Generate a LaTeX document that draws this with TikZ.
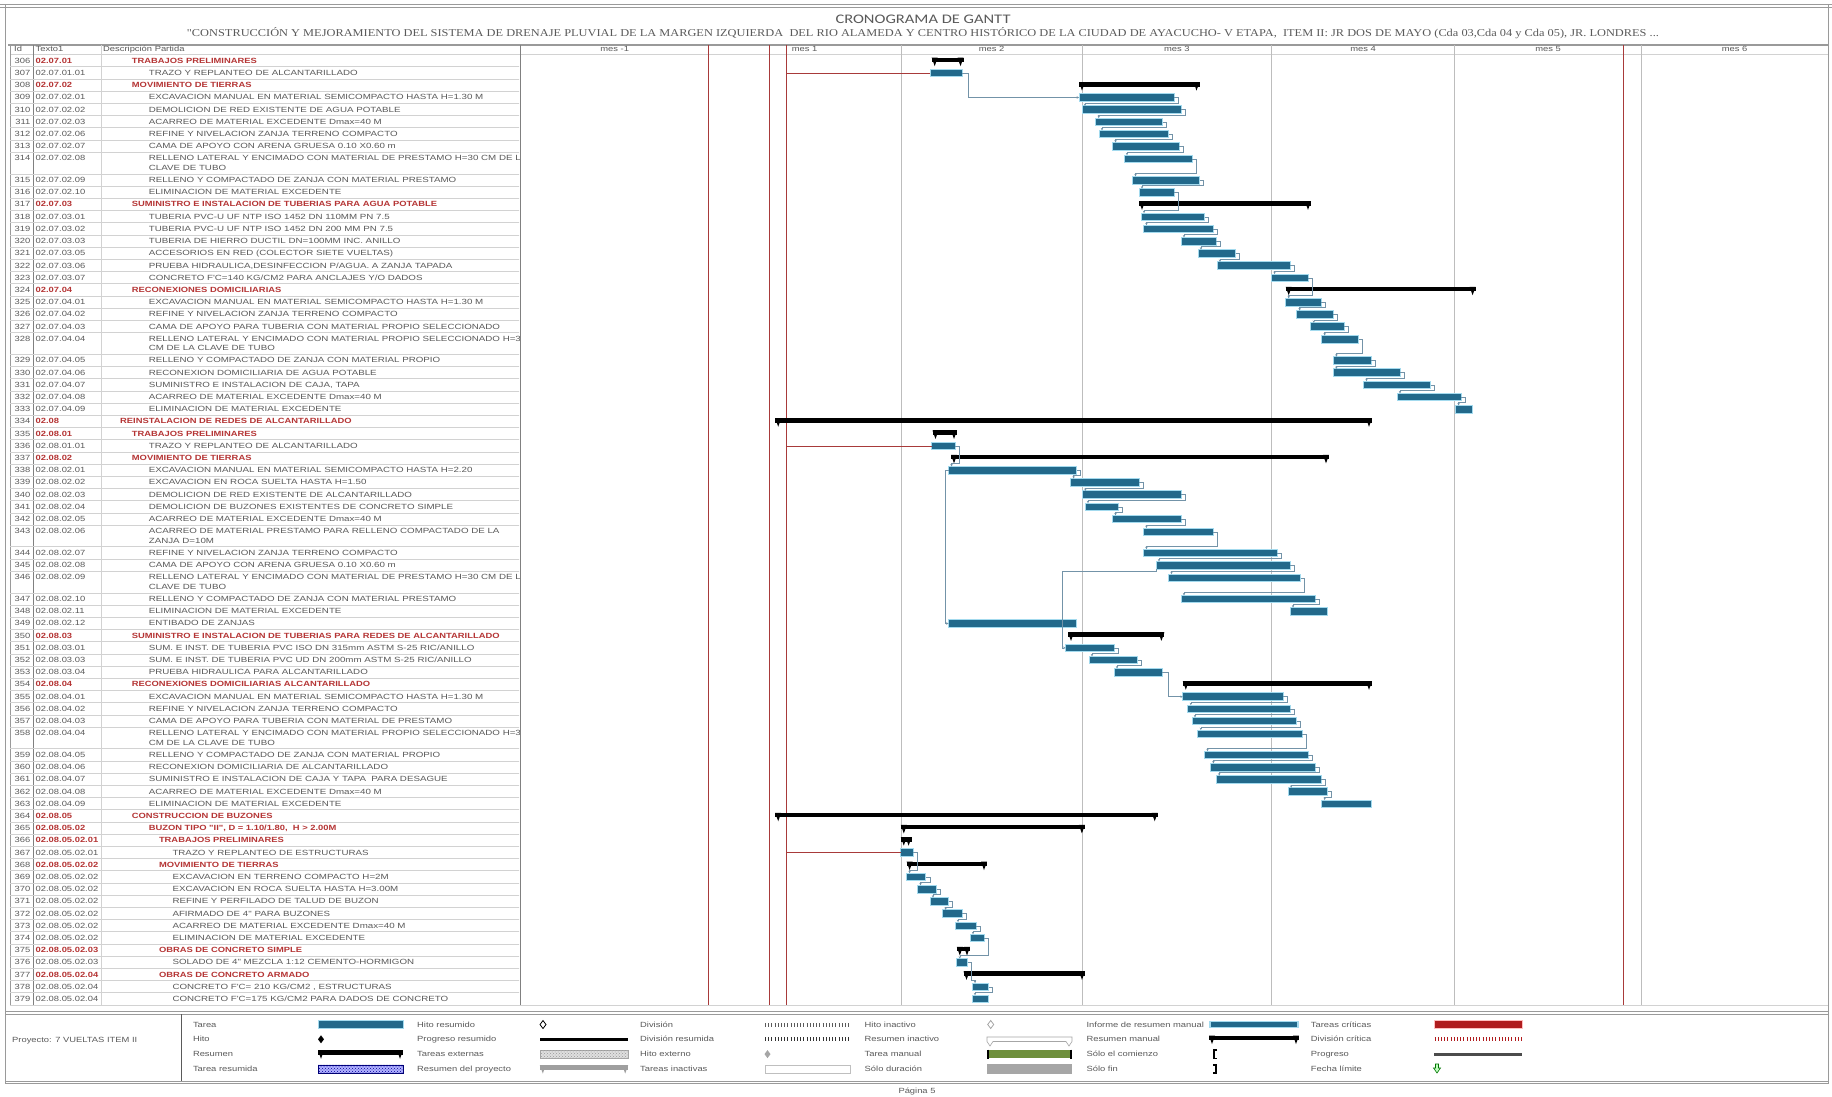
\documentclass[tikz,border=0pt]{standalone}
\usepackage{fontspec}
\usepackage{graphicx}
\setmainfont{Liberation Sans}
\newfontfamily\tabfont[FakeStretch=1.25]{Liberation Sans}
\newfontfamily\descfont[FakeStretch=1.3]{Liberation Sans}
\newfontfamily\ttlfont{Carlito}
\newfontfamily\subfont{Liberation Serif}
\usetikzlibrary{arrows.meta,patterns}

\definecolor{barFill}{HTML}{22698B}
\definecolor{barEdge}{HTML}{A3DAEE}
\definecolor{redln}{HTML}{A83A3A}
\definecolor{gridln}{HTML}{BDBDBD}
\definecolor{txtgray}{HTML}{5A5A5A}
\definecolor{txtred}{HTML}{B53535}
\definecolor{rowln}{HTML}{D2D2D2}
\definecolor{linkln}{HTML}{7393A8}
\definecolor{frameln}{HTML}{9A9A9A}
\definecolor{manGreen}{HTML}{6E8F3C}
\definecolor{critRed}{HTML}{B01C1E}

\newcommand\tabsz{\tabfont\fontsize{7.5}{8}\selectfont}
\newcommand\tabszb{\tabfont\bfseries\fontsize{7.5}{8}\selectfont}
\newcommand\descsz{\descfont\fontsize{7.5}{8}\selectfont}

% running top edge of the current table row
\newcount\rowno
\def\rtop{54.6}

% one-line row: id, code, kind (t|s), indent, text
\newcommand\RA[5]{%
  \global\advance\rowno by 1
  \edef\rn{\the\rowno}%
  \pgfmathsetmacro\ybase{\rtop+8.7}%
  \node[idtext] (id\rn) at (30.5,\ybase) {#1};
  \node[#3code] (cd\rn) at (35.5,\ybase) {#2};
  \node[#3desc] (ds\rn) at (#4,\ybase) {#5};
  \pgfmathsetmacro\yb{\rtop+6.3}%
  \expandafter\xdef\csname ry\rn\endcsname{\yb}%
  \pgfmathsetmacro\nt{\rtop+12.2}%
  \draw[rowrule] (10,\nt) -- (520,\nt);
  \xdef\rtop{\nt}%
}
% two-line row: id, code, kind, indent, first line, second line
\newcommand\RB[6]{%
  \global\advance\rowno by 1
  \edef\rn{\the\rowno}%
  \pgfmathsetmacro\ybase{\rtop+8.7}%
  \pgfmathsetmacro\ybaseb{\rtop+18.0}%
  \node[idtext] (id\rn) at (30.5,\ybase) {#1};
  \node[#3code] (cd\rn) at (35.5,\ybase) {#2};
  \node[#3desc] (ds\rn) at (#4,\ybase) {#5};
  \node[#3desc] (dt\rn) at (#4,\ybaseb) {#6};
  \pgfmathsetmacro\yb{\rtop+6.8}%
  \expandafter\xdef\csname ry\rn\endcsname{\yb}%
  \pgfmathsetmacro\nt{\rtop+21.7}%
  \draw[rowrule] (10,\nt) -- (520,\nt);
  \xdef\rtop{\nt}%
}
% task bar: row, start x, end x
\newcommand\TB[3]{%
  \pgfmathsetmacro\bw{#3-#2}\pgfmathsetmacro\bx{(#2+#3)/2}%
  \edef\yy{\csname ry#1\endcsname}%
  \node[taskbar, minimum width=\bw pt] (b#1) at (\bx,\yy) {};
}
% summary bar: row, start x, end x
\newcommand\SB[3]{%
  \pgfmathsetmacro\bw{#3-#2}\pgfmathsetmacro\bx{(#2+#3)/2}%
  \edef\yy{\csname ry#1\endcsname}%
  \node[sumbar, minimum width=\bw pt] (s#1) at (\bx,\yy-1) {};
  \fill[black] (s#1.north west) -- ++(6,0) -- ++(-3,8.5) -- cycle;
  \fill[black] (s#1.north east) -- ++(-6,0) -- ++(3,8.5) -- cycle;
}
% finish-to-start link between two task bars
\newcommand\LK[2]{%
  \draw[link] (b#1.east) -- ++(4,0) |- ([xshift=3pt,yshift=3pt]b#2.north west) -- ([xshift=3pt]b#2.north west);
}

\begin{document}
\begin{tikzpicture}[x=1pt,y=-1pt,
  idtext/.style={anchor=base east,inner sep=0,font=\tabsz,text=txtgray},
  tcode/.style={anchor=base west,inner sep=0,font=\tabsz,text=txtgray},
  scode/.style={anchor=base west,inner sep=0,font=\tabszb,text=txtred},
  tdesc/.style={anchor=base west,inner sep=0,font=\descsz,text=txtgray},
  sdesc/.style={anchor=base west,inner sep=0,font=\tabszb,text=txtred},
  lbl/.style={anchor=base west,inner sep=0,font=\tabsz,text=txtgray},
  rowrule/.style={rowln,line width=0.6pt},
  taskbar/.style={draw=barEdge,line width=0.9pt,fill=barFill,minimum height=7.6pt,inner sep=0,outer sep=0},
  sumbar/.style={fill=black,minimum height=4.5pt,inner sep=0,outer sep=0},
  link/.style={linkln,line width=0.5pt,-{Stealth[length=2.4pt,width=2.4pt]}},
  redlink/.style={redln,line width=0.6pt},
  grid/.style={gridln,line width=0.6pt},
  redgrid/.style={redln,line width=0.8pt},
]
\useasboundingbox (0,0) rectangle (1832,1097);
\fill[white] (0,0) rectangle (1832,1097);

% page frame
\draw[frameln,line width=1pt] (0,4.5) -- (1832,4.5);
\draw[frameln,line width=0.6pt] (0,7) -- (1832,7);
\draw[frameln,line width=0.8pt] (5,4.5) -- (5,1084);
\draw[frameln,line width=0.8pt] (1828,4.5) -- (1828,1084);

% titles
\node[text=txtgray] (ttl) at (923,19) {\resizebox{175pt}{8.5pt}{\ttlfont CRONOGRAMA DE GANTT}};
\node[text=txtgray] (sub) at (923,33) {\resizebox{1472pt}{9pt}{\subfont "CONSTRUCCIÓN Y MEJORAMIENTO DEL SISTEMA DE DRENAJE PLUVIAL DE LA MARGEN IZQUIERDA\ \ DEL RIO ALAMEDA Y CENTRO HISTÓRICO DE LA CIUDAD DE AYACUCHO- V ETAPA,\ \ ITEM II: JR DOS DE MAYO (Cda 03,Cda 04 y Cda 05), JR. LONDRES ...}};

% header band
\draw[frameln,line width=1.4pt] (8,45) -- (1828,45);
\draw[rowln,line width=0.8pt] (10,54.6) -- (1828,54.6);
\node[lbl] (hId) at (14,51.8) {Id};
\node[lbl] (hTx) at (35.5,51.8) {Texto1};
\node[lbl] (hDs) at (103,51.8) {Descripción Partida};
\foreach \mx/\ml [count=\i] in {614.7/mes -1,804.6/mes 1,991.6/mes 2,1176.9/mes 3,1363.1/mes 4,1548/mes 5,1734.5/mes 6}
  \node[anchor=base,inner sep=0,font=\tabsz,text=txtgray] (mes\i) at (\mx,51.8) {\ml};

% table columns
\draw[frameln,line width=0.8pt] (10,45) -- (10,1005);
\draw[gray,line width=1pt] (33.5,45) -- (33.5,1005);
\draw[rowln,line width=0.7pt] (101,45) -- (101,1005);

% timescale grid
\foreach \gx in {900.8,1082.3,1271.5,1454.7,1641.3}
  \draw[grid] (\gx,45) -- (\gx,1005);
\foreach \gx in {708.3,769.4,786.1,1623}
  \draw[redgrid] (\gx,45) -- (\gx,1005);

% table rows
\begin{scope}
\clip (10,54) rectangle (519,1006);
\RA{306}{02.07.01}{s}{131.7}{TRABAJOS PRELIMINARES}
\RA{307}{02.07.01.01}{t}{148.6}{TRAZO Y REPLANTEO DE ALCANTARILLADO}
\RA{308}{02.07.02}{s}{131.7}{MOVIMIENTO DE TIERRAS}
\RA{309}{02.07.02.01}{t}{148.6}{EXCAVACION MANUAL EN MATERIAL SEMICOMPACTO HASTA H=1.30 M}
\RA{310}{02.07.02.02}{t}{148.6}{DEMOLICION DE RED EXISTENTE DE AGUA POTABLE}
\RA{311}{02.07.02.03}{t}{148.6}{ACARREO DE MATERIAL EXCEDENTE Dmax=40 M}
\RA{312}{02.07.02.06}{t}{148.6}{REFINE Y NIVELACION ZANJA TERRENO COMPACTO}
\RA{313}{02.07.02.07}{t}{148.6}{CAMA DE APOYO CON ARENA GRUESA 0.10 X0.60 m}
\RB{314}{02.07.02.08}{t}{148.6}{RELLENO LATERAL Y ENCIMADO CON MATERIAL DE PRESTAMO H=30 CM DE LA}{CLAVE DE TUBO}
\RA{315}{02.07.02.09}{t}{148.6}{RELLENO Y COMPACTADO DE ZANJA CON MATERIAL PRESTAMO}
\RA{316}{02.07.02.10}{t}{148.6}{ELIMINACION DE MATERIAL EXCEDENTE}
\RA{317}{02.07.03}{s}{131.7}{SUMINISTRO E INSTALACION DE TUBERIAS PARA AGUA POTABLE}
\RA{318}{02.07.03.01}{t}{148.6}{TUBERIA PVC-U UF NTP ISO 1452 DN 110MM PN 7.5}
\RA{319}{02.07.03.02}{t}{148.6}{TUBERIA PVC-U UF NTP ISO 1452 DN 200 MM PN 7.5}
\RA{320}{02.07.03.03}{t}{148.6}{TUBERIA DE HIERRO DUCTIL DN=100MM INC. ANILLO}
\RA{321}{02.07.03.05}{t}{148.6}{ACCESORIOS EN RED (COLECTOR SIETE VUELTAS)}
\RA{322}{02.07.03.06}{t}{148.6}{PRUEBA HIDRAULICA,DESINFECCION P/AGUA. A ZANJA TAPADA}
\RA{323}{02.07.03.07}{t}{148.6}{CONCRETO F'C=140 KG/CM2 PARA ANCLAJES Y/O DADOS}
\RA{324}{02.07.04}{s}{131.7}{RECONEXIONES DOMICILIARIAS}
\RA{325}{02.07.04.01}{t}{148.6}{EXCAVACION MANUAL EN MATERIAL SEMICOMPACTO HASTA H=1.30 M}
\RA{326}{02.07.04.02}{t}{148.6}{REFINE Y NIVELACION ZANJA TERRENO COMPACTO}
\RA{327}{02.07.04.03}{t}{148.6}{CAMA DE APOYO PARA TUBERIA CON MATERIAL PROPIO SELECCIONADO}
\RB{328}{02.07.04.04}{t}{148.6}{RELLENO LATERAL Y ENCIMADO CON MATERIAL PROPIO SELECCIONADO H=30}{CM DE LA CLAVE DE TUBO}
\RA{329}{02.07.04.05}{t}{148.6}{RELLENO Y COMPACTADO DE ZANJA CON MATERIAL PROPIO}
\RA{330}{02.07.04.06}{t}{148.6}{RECONEXION DOMICILIARIA DE AGUA POTABLE}
\RA{331}{02.07.04.07}{t}{148.6}{SUMINISTRO E INSTALACION DE CAJA, TAPA}
\RA{332}{02.07.04.08}{t}{148.6}{ACARREO DE MATERIAL EXCEDENTE Dmax=40 M}
\RA{333}{02.07.04.09}{t}{148.6}{ELIMINACION DE MATERIAL EXCEDENTE}
\RA{334}{02.08}{s}{120}{REINSTALACION DE REDES DE ALCANTARILLADO}
\RA{335}{02.08.01}{s}{131.7}{TRABAJOS PRELIMINARES}
\RA{336}{02.08.01.01}{t}{148.6}{TRAZO Y REPLANTEO DE ALCANTARILLADO}
\RA{337}{02.08.02}{s}{131.7}{MOVIMIENTO DE TIERRAS}
\RA{338}{02.08.02.01}{t}{148.6}{EXCAVACION MANUAL EN MATERIAL SEMICOMPACTO HASTA H=2.20}
\RA{339}{02.08.02.02}{t}{148.6}{EXCAVACION EN ROCA SUELTA HASTA H=1.50}
\RA{340}{02.08.02.03}{t}{148.6}{DEMOLICION DE RED EXISTENTE DE ALCANTARILLADO}
\RA{341}{02.08.02.04}{t}{148.6}{DEMOLICION DE BUZONES EXISTENTES DE CONCRETO SIMPLE}
\RA{342}{02.08.02.05}{t}{148.6}{ACARREO DE MATERIAL EXCEDENTE Dmax=40 M}
\RB{343}{02.08.02.06}{t}{148.6}{ACARREO DE MATERIAL PRESTAMO PARA RELLENO COMPACTADO DE LA}{ZANJA D=10M}
\RA{344}{02.08.02.07}{t}{148.6}{REFINE Y NIVELACION ZANJA TERRENO COMPACTO}
\RA{345}{02.08.02.08}{t}{148.6}{CAMA DE APOYO CON ARENA GRUESA 0.10 X0.60 m}
\RB{346}{02.08.02.09}{t}{148.6}{RELLENO LATERAL Y ENCIMADO CON MATERIAL DE PRESTAMO H=30 CM DE LA}{CLAVE DE TUBO}
\RA{347}{02.08.02.10}{t}{148.6}{RELLENO Y COMPACTADO DE ZANJA CON MATERIAL PRESTAMO}
\RA{348}{02.08.02.11}{t}{148.6}{ELIMINACION DE MATERIAL EXCEDENTE}
\RA{349}{02.08.02.12}{t}{148.6}{ENTIBADO DE ZANJAS}
\RA{350}{02.08.03}{s}{131.7}{SUMINISTRO E INSTALACION DE TUBERIAS PARA REDES DE ALCANTARILLADO}
\RA{351}{02.08.03.01}{t}{148.6}{SUM. E INST. DE TUBERIA PVC ISO DN 315mm ASTM S-25 RIC/ANILLO}
\RA{352}{02.08.03.03}{t}{148.6}{SUM. E INST. DE TUBERIA PVC UD DN 200mm ASTM S-25 RIC/ANILLO}
\RA{353}{02.08.03.04}{t}{148.6}{PRUEBA HIDRAULICA PARA ALCANTARILLADO}
\RA{354}{02.08.04}{s}{131.7}{RECONEXIONES DOMICILIARIAS ALCANTARILLADO}
\RA{355}{02.08.04.01}{t}{148.6}{EXCAVACION MANUAL EN MATERIAL SEMICOMPACTO HASTA H=1.30 M}
\RA{356}{02.08.04.02}{t}{148.6}{REFINE Y NIVELACION ZANJA TERRENO COMPACTO}
\RA{357}{02.08.04.03}{t}{148.6}{CAMA DE APOYO PARA TUBERIA CON MATERIAL DE PRESTAMO}
\RB{358}{02.08.04.04}{t}{148.6}{RELLENO LATERAL Y ENCIMADO CON MATERIAL PROPIO SELECCIONADO H=30}{CM DE LA CLAVE DE TUBO}
\RA{359}{02.08.04.05}{t}{148.6}{RELLENO Y COMPACTADO DE ZANJA CON MATERIAL PROPIO}
\RA{360}{02.08.04.06}{t}{148.6}{RECONEXION DOMICILIARIA DE ALCANTARILLADO}
\RA{361}{02.08.04.07}{t}{148.6}{SUMINISTRO E INSTALACION DE CAJA Y TAPA\ \ PARA DESAGUE}
\RA{362}{02.08.04.08}{t}{148.6}{ACARREO DE MATERIAL EXCEDENTE Dmax=40 M}
\RA{363}{02.08.04.09}{t}{148.6}{ELIMINACION DE MATERIAL EXCEDENTE}
\RA{364}{02.08.05}{s}{131.7}{CONSTRUCCION DE BUZONES}
\RA{365}{02.08.05.02}{s}{148.6}{BUZON TIPO "II", D = 1.10/1.80,\ \ H > 2.00M}
\RA{366}{02.08.05.02.01}{s}{158.8}{TRABAJOS PRELIMINARES}
\RA{367}{02.08.05.02.01}{t}{172.3}{TRAZO Y REPLANTEO DE ESTRUCTURAS}
\RA{368}{02.08.05.02.02}{s}{158.8}{MOVIMIENTO DE TIERRAS}
\RA{369}{02.08.05.02.02}{t}{172.3}{EXCAVACION EN TERRENO COMPACTO H=2M}
\RA{370}{02.08.05.02.02}{t}{172.3}{EXCAVACION EN ROCA SUELTA HASTA H=3.00M}
\RA{371}{02.08.05.02.02}{t}{172.3}{REFINE Y PERFILADO DE TALUD DE BUZON}
\RA{372}{02.08.05.02.02}{t}{172.3}{AFIRMADO DE 4" PARA BUZONES}
\RA{373}{02.08.05.02.02}{t}{172.3}{ACARREO DE MATERIAL EXCEDENTE Dmax=40 M}
\RA{374}{02.08.05.02.02}{t}{172.3}{ELIMINACION DE MATERIAL EXCEDENTE}
\RA{375}{02.08.05.02.03}{s}{158.8}{OBRAS DE CONCRETO SIMPLE}
\RA{376}{02.08.05.02.03}{t}{172.3}{SOLADO DE 4" MEZCLA 1:12 CEMENTO-HORMIGON}
\RA{377}{02.08.05.02.04}{s}{158.8}{OBRAS DE CONCRETO ARMADO}
\RA{378}{02.08.05.02.04}{t}{172.3}{CONCRETO F'C= 210 KG/CM2 , ESTRUCTURAS}
\RA{379}{02.08.05.02.04}{t}{172.3}{CONCRETO F'C=175 KG/CM2 PARA DADOS DE CONCRETO}
\end{scope}

% split between table and chart, bottom of the view
\draw[gray,line width=1.5pt] (520.5,45) -- (520.5,1005);
\draw[rowln,line width=0.8pt] (10,1005) -- (1828,1005);

% summary bars
\SB{1}{931.7}{963.5}
\SB{3}{1079}{1199.5}
\SB{12}{1139}{1311}
\SB{19}{1285.7}{1475.6}
\SB{29}{775.2}{1372}
\SB{30}{932.5}{957}
\SB{32}{951}{1329}
\SB{45}{1068}{1164.4}
\SB{49}{1182.8}{1372}
\SB{59}{775.2}{1157.7}
\SB{60}{900.8}{1084.9}
\SB{61}{900.8}{911.6}
\SB{63}{906.6}{987}
\SB{70}{956.8}{970}
\SB{72}{963.5}{1085}

% task bars
\TB{2}{930}{962}
\TB{4}{1079}{1174}
\TB{5}{1082}{1181}
\TB{6}{1095.7}{1162.7}
\TB{7}{1099}{1168.5}
\TB{8}{1112.5}{1179.4}
\TB{9}{1124}{1192}
\TB{10}{1132.5}{1199.5}
\TB{11}{1139}{1174}
\TB{13}{1141}{1204.5}
\TB{14}{1143.4}{1213}
\TB{15}{1181}{1216}
\TB{16}{1198}{1235.5}
\TB{17}{1217}{1290}
\TB{18}{1271.5}{1308}
\TB{20}{1285.7}{1321}
\TB{21}{1296.6}{1333.4}
\TB{22}{1310.8}{1344}
\TB{23}{1321.7}{1358.5}
\TB{24}{1333.4}{1371}
\TB{25}{1333.4}{1400}
\TB{26}{1363.5}{1430.5}
\TB{27}{1397}{1461.4}
\TB{28}{1455.6}{1472.3}
\TB{31}{931.7}{955}
\TB{33}{948.5}{1076.5}
\TB{34}{1070.6}{1139}
\TB{35}{1082.4}{1181}
\TB{36}{1085}{1118.3}
\TB{37}{1112.5}{1181}
\TB{38}{1143.4}{1213}
\TB{39}{1143.4}{1277.3}
\TB{40}{1156}{1290}
\TB{41}{1168.5}{1300.7}
\TB{42}{1181}{1315}
\TB{43}{1290}{1327.5}
\TB{44}{948.5}{1076.5}
\TB{46}{1065.6}{1114}
\TB{47}{1089}{1137.6}
\TB{48}{1114}{1162}
\TB{50}{1182.8}{1283}
\TB{51}{1187.8}{1290}
\TB{52}{1192}{1296.6}
\TB{53}{1197.8}{1302.4}
\TB{54}{1204.5}{1308.3}
\TB{55}{1210.4}{1315}
\TB{56}{1216.2}{1321}
\TB{57}{1288.2}{1327.5}
\TB{58}{1321.7}{1371}
\TB{62}{900.8}{913.3}
\TB{64}{906.6}{925.9}
\TB{65}{917.5}{936.7}
\TB{66}{930}{948.5}
\TB{67}{942.6}{962}
\TB{68}{955}{976}
\TB{69}{970}{984.4}
\TB{71}{956.8}{967.7}
\TB{73}{972}{988.7}
\TB{74}{972}{988.7}

% links between tasks
\draw[link] (b2.east) -- ++(6,0) |- (b4.west);
\foreach \a/\b in {4/5,5/6,6/7,7/8,8/9,9/10,10/11,11/13,13/14,14/15,15/16,16/17,17/18,18/20,
  20/21,21/22,22/23,23/24,24/25,25/26,26/27,27/28,31/33,33/34,34/35,35/36,36/37,37/38,38/39,
  39/40,40/41,41/42,42/43,46/47,47/48,50/51,51/52,52/53,53/54,54/55,55/56,56/57,57/58,
  62/64,64/65,65/66,66/67,67/68,68/69,69/71,71/73,73/74}
  {\LK{\a}{\b}}
\draw[link] (b33.west) -- ++(-3.5,0) |- (b44.west);
\draw[link] (b40.south west) -- ++(0,2) -| ([xshift=-3.5pt]b46.west) -- (b46.west);
\draw[link] (b48.east) -- ++(6,0) |- (b50.west);

% constraint lines from the status date
\foreach \r in {2,31,62}{
  \coordinate (st\r) at (786.1,\csname ry\r\endcsname);
  \draw[redlink] (st\r) -- (b\r.west);
}

% legend box
\draw[frameln,line width=1.2pt] (5,1011.5) -- (1828,1011.5);
\draw[frameln,line width=0.6pt] (5,1014) -- (1828,1014);
\draw[frameln,line width=0.6pt] (5,1081) -- (1828,1081);
\draw[frameln,line width=1.2pt] (5,1083.5) -- (1828,1083.5);
\draw[txtgray,line width=0.7pt] (181,1014) -- (181,1081);
\node[lbl] (proj) at (12,1042) {Proyecto: 7 VUELTAS ITEM II};

\foreach \tx/\ty/\tl in {192.8/1024.5/Tarea,192.8/1039.3/Hito,192.8/1054.1/Resumen,192.8/1068.9/Tarea resumida,
  417/1024.5/Hito resumido,417/1039.3/Progreso resumido,417/1054.1/Tareas externas,417/1068.9/Resumen del proyecto,
  640/1024.5/División,640/1039.3/División resumida,640/1054.1/Hito externo,640/1068.9/Tareas inactivas,
  864.5/1024.5/Hito inactivo,864.5/1039.3/Resumen inactivo,864.5/1054.1/Tarea manual,864.5/1068.9/Sólo duración,
  1086.4/1024.5/Informe de resumen manual,1086.4/1039.3/Resumen manual,1086.4/1054.1/Sólo el comienzo,1086.4/1068.9/Sólo fin,
  1310.7/1024.5/Tareas críticas,1310.7/1039.3/División crítica,1310.7/1054.1/Progreso,1310.7/1068.9/Fecha límite}
  \node[lbl] at (\tx,\ty+2.6) {\tl};

% legend column 1
\node[taskbar,minimum width=85pt] (lgTarea) at (360.5,1024.5) {};
\fill[black] (321,1035.3) -- (324,1039.3) -- (321,1043.3) -- (318,1039.3) -- cycle;
\node[sumbar,minimum width=85pt] (lgRes) at (360.5,1052.5) {};
\fill[black] (lgRes.north west) -- ++(6,0) -- ++(-3,8.5) -- cycle;
\fill[black] (lgRes.north east) -- ++(-6,0) -- ++(3,8.5) -- cycle;
\node[draw=blue!45!black,fill=blue!30,minimum width=85pt,minimum height=8pt,inner sep=0,
  postaction={pattern=crosshatch dots,pattern color=blue!60!black}] (lgTr) at (360.5,1068.9) {};

% legend column 2
\draw[black,line width=0.8pt] (543,1020.5) -- (546,1024.5) -- (543,1028.5) -- (540,1024.5) -- cycle;
\node[fill=black,minimum width=88pt,minimum height=3.2pt,inner sep=0] (lgProgR) at (584,1039.3) {};
\node[draw=gray!70,fill=gray!25,minimum width=88pt,minimum height=8pt,inner sep=0,
  postaction={pattern=crosshatch dots,pattern color=gray!80}] (lgExt) at (584,1054.1) {};
\node[fill=gray!75,minimum width=88pt,minimum height=4.5pt,inner sep=0] (lgProj) at (584,1067.5) {};
\fill[gray!75] (lgProj.north west) -- ++(6,0) -- ++(-3,8.5) -- cycle;
\fill[gray!75] (lgProj.north east) -- ++(-6,0) -- ++(3,8.5) -- cycle;

% legend column 3
\draw[txtgray,line width=4pt,dash pattern=on 0.8pt off 2.4pt] (765,1024.5) -- (850,1024.5);
\draw[black!80,line width=4pt,dash pattern=on 0.8pt off 2.4pt] (765,1039.3) -- (850,1039.3);
\fill[gray!70] (767.5,1050.1) -- (770.5,1054.1) -- (767.5,1058.1) -- (764.5,1054.1) -- cycle;
\node[draw=gray!50,fill=white,minimum width=85pt,minimum height=8pt,inner sep=0] (lgInact) at (807.5,1068.9) {};

% legend column 4
\draw[gray!70,line width=0.8pt] (990.7,1020.5) -- (993.7,1024.5) -- (990.7,1028.5) -- (987.7,1024.5) -- cycle;
\draw[gray!70,fill=white,line width=0.6pt] (987,1037) -- (1072,1037) -- (1072,1041.5) -- (1069,1046) -- (1066,1041.5)
  -- (993,1041.5) -- (990,1046) -- (987,1041.5) -- cycle;
\node[fill=manGreen,minimum width=85pt,minimum height=8pt,inner sep=0] (lgMan) at (1029.5,1054.1) {};
\draw[black,line width=1.8pt] (988,1049.6) -- (988,1058.6);
\draw[black,line width=1.8pt] (1071,1049.6) -- (1071,1058.6);
\node[fill=gray!70,minimum width=85pt,minimum height=10pt,inner sep=0] (lgDur) at (1029.5,1068.9) {};

% legend column 5
\node[draw=barEdge,line width=1.6pt,fill=barFill,minimum width=88pt,minimum height=6pt,inner sep=0] (lgInf) at (1254,1024.5) {};
\node[sumbar,minimum width=90pt] (lgResM) at (1254,1037.8) {};
\fill[black] (lgResM.north west) -- ++(6,0) -- ++(-3,8.5) -- cycle;
\fill[black] (lgResM.north east) -- ++(-6,0) -- ++(3,8.5) -- cycle;
\draw[black,line width=1.4pt] (1217,1050) -- (1214,1050) -- (1214,1058.2) -- (1217,1058.2);
\draw[black,line width=1.4pt] (1213,1064.8) -- (1216,1064.8) -- (1216,1073) -- (1213,1073);

% legend column 6
\node[draw=red!25,line width=0.9pt,fill=critRed,minimum width=88pt,minimum height=8pt,inner sep=0] (lgCrit) at (1478.3,1024.5) {};
\draw[critRed,line width=4pt,dash pattern=on 0.8pt off 2.4pt] (1434.6,1039.3) -- (1522,1039.3);
\node[fill=black!70,minimum width=88pt,minimum height=3pt,inner sep=0] (lgProg) at (1478.3,1054.1) {};
\draw[green!45!black,fill=green!25,line width=0.6pt] (1435.5,1064) -- (1438.5,1064) -- (1438.5,1068) -- (1440.5,1068)
  -- (1437,1073) -- (1433.5,1068) -- (1435.5,1068) -- cycle;

% footer
\node[anchor=base,inner sep=0,font=\tabsz,text=txtgray] (pag) at (917,1093) {Página 5};
\end{tikzpicture}
\end{document}
